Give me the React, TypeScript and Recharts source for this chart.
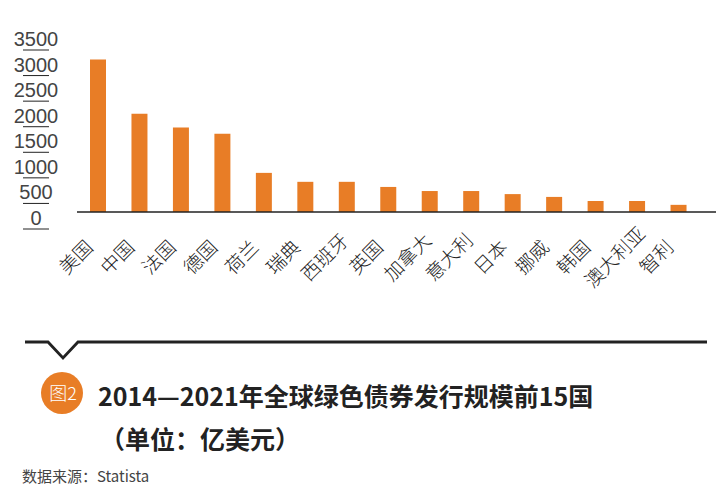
import React from "react";
import { BarChart, Bar, XAxis, YAxis } from "recharts";

const countries = [
  "美国", "中国", "法国", "德国", "荷兰", "瑞典", "西班牙", "英国",
  "加拿大", "意大利", "日本", "挪威", "韩国", "澳大利亚", "智利",
];
const issuance = [2980, 1920, 1650, 1530, 765, 590, 590, 490, 410, 410, 350, 295, 215, 215, 140];
const yTicks = [0, 500, 1000, 1500, 2000, 2500, 3000, 3500];

const data = countries.map((name, i) => ({ name, value: issuance[i] }));

const ORANGE = "#E87D26";
const CJK = '"Noto Sans CJK SC", "Noto Sans", sans-serif';

function YTick(props: any) {
  const { y, payload } = props;
  return (
    <g>
      <text
        x={36}
        y={y + 6}
        textAnchor="middle"
        dominantBaseline="central"
        fontSize={20}
        fontFamily='"Liberation Sans", Arial, sans-serif'
        fill="#444"
      >
        {payload.value}
      </text>
      <line x1={23} x2={49} y1={y + 17} y2={y + 17} stroke="#222" strokeWidth={1} />
    </g>
  );
}

// labels are roughly centred on a point below-left of each bar
function XTick(props: any) {
  const { x, y, payload } = props;
  const tx = x - 17;
  const ty = y + 50;
  return (
    <text
      x={tx}
      y={ty}
      textAnchor="middle"
      transform={`rotate(-45 ${tx} ${ty})`}
      fontSize={19}
      fontFamily={CJK}
      fontWeight={300}
      fill="#222"
    >
      {payload.value}
    </text>
  );
}

export default function App() {
  return (
    <div style={{ position: "relative", width: 725, height: 499, background: "#fff" }}>
      <style>{`body{margin:0}`}</style>
      <BarChart
        width={725}
        height={330}
        data={data}
        margin={{ top: 33, right: 9, left: 0, bottom: 58 }}
      >
        <YAxis
          domain={[0, 3500]}
          ticks={yTicks}
          width={77}
          axisLine={false}
          tickLine={false}
          tickSize={0}
          tickMargin={0}
          tick={<YTick />}
          interval={0}
        />
        <XAxis
          dataKey="name"
          height={60}
          interval={0}
          tickLine={false}
          tickSize={0}
          tickMargin={0}
          padding={{ left: 0, right: 17 }}
          axisLine={{ stroke: "#222", strokeWidth: 1.5 }}
          tick={<XTick />}
        />
        <Bar dataKey="value" fill={ORANGE} barSize={16} isAnimationActive={false} />
      </BarChart>

      <svg
        width={725}
        height={170}
        style={{ position: "absolute", left: 0, top: 330 }}
      >
        <polyline
          points="25,12 48,12 63,28 78,12 707,12"
          fill="none"
          stroke="#222"
          strokeWidth={2.8}
        />
        <circle cx={62} cy={63} r={21} fill={ORANGE} />
        <text x={63} y={70} textAnchor="middle" fontSize={18} fontFamily={CJK} fontWeight={300} fill="#fff">
          图2
        </text>
        <text x={98} y={76} fontSize={25} fontFamily={CJK} fontWeight={700} fill="#222">
          2014—2021年全球绿色债券发行规模前15国
        </text>
        <text x={100} y={119} fontSize={25} fontFamily={CJK} fontWeight={700} fill="#222">
          （单位：亿美元）
        </text>
        <text x={22} y={152} fontSize={15} fontFamily={CJK} fill="#444">
          数据来源：Statista
        </text>
      </svg>
    </div>
  );
}
